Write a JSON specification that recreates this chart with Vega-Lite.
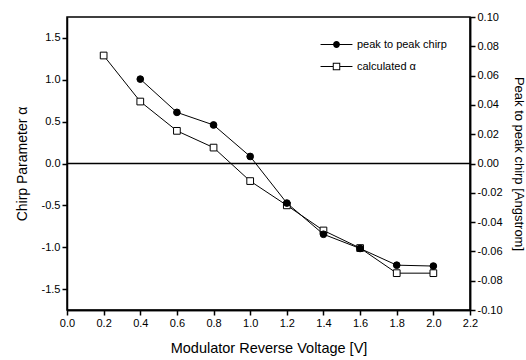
{
  "$schema": "https://vega.github.io/schema/vega-lite/v6.json",
  "width": 403,
  "height": 293,
  "autosize": {"type": "none"},
  "padding": {"left": 67, "top": 17, "right": 56, "bottom": 50},
  "background": "white",
  "config": {
    "font": "Liberation Sans",
    "view": {"stroke": "black", "strokeWidth": 1.5},
    "axis": {
      "grid": false,
      "ticks": true,
      "domainColor": "black",
      "domainWidth": 1.5,
      "tickColor": "black",
      "tickWidth": 1.5,
      "tickSize": 5,
      "labelColor": "black",
      "labelFont": "Liberation Sans",
      "labelFontSize": 11,
      "labelPadding": 2,
      "labelFlush": false,
      "labelOverlap": false,
      "titleColor": "black",
      "titleFont": "Liberation Sans",
      "titleFontSize": 13,
      "titleFontWeight": "normal"
    },
    "legend": {
      "labelFont": "Liberation Sans",
      "labelFontSize": 11,
      "labelColor": "black"
    }
  },
  "datasets": {
    "alpha": [
      {"V": 0.2, "alpha": 1.29},
      {"V": 0.4, "alpha": 0.74},
      {"V": 0.6, "alpha": 0.39},
      {"V": 0.8, "alpha": 0.19},
      {"V": 1.0, "alpha": -0.21},
      {"V": 1.2, "alpha": -0.50},
      {"V": 1.4, "alpha": -0.80},
      {"V": 1.6, "alpha": -1.01},
      {"V": 1.8, "alpha": -1.31},
      {"V": 2.0, "alpha": -1.31}
    ],
    "chirp": [
      {"V": 0.4, "chirp": 0.0576},
      {"V": 0.6, "chirp": 0.0349},
      {"V": 0.8, "chirp": 0.0263},
      {"V": 1.0, "chirp": 0.0048},
      {"V": 1.2, "chirp": -0.027},
      {"V": 1.4, "chirp": -0.0483},
      {"V": 1.6, "chirp": -0.058},
      {"V": 1.8, "chirp": -0.0694},
      {"V": 2.0, "chirp": -0.070}
    ]
  },
  "layer": [
    {
      "layer": [
        {
          "data": {"name": "alpha"},
          "mark": {"type": "line", "color": "black", "strokeWidth": 1},
          "encoding": {
            "x": {
              "field": "V", "type": "quantitative",
              "scale": {"domain": [0, 2.2], "nice": false, "zero": false},
              "axis": {
                "orient": "bottom",
                "title": "Modulator Reverse Voltage [V]",
                "titleFontSize": 14.5,
                "titlePadding": 13,
                "labelOverlap": false,
                "values": [0, 0.4, 0.8, 1.2, 1.6, 2.0],
                "format": ".1f"
              }
            },
            "y": {
              "field": "alpha", "type": "quantitative",
              "scale": {"domain": [-1.75, 1.75], "nice": false, "zero": false},
              "axis": {
                "orient": "left",
                "title": "Chirp Parameter α",
                "titleFontSize": 14,
                "titlePadding": 12,
                "labelOverlap": false,
                "values": [-1.5, -1, -0.5, 0, 0.5, 1, 1.5],
                "labelExpr": "replace(format(datum.value, '.1f'), '\u2212', '-')"
              }
            }
          }
        },
        {
          "data": {"name": "alpha"},
          "mark": {"type": "point", "shape": "square", "filled": true, "fill": "white", "stroke": "black", "strokeWidth": 1, "opacity": 1, "size": 45},
          "encoding": {
            "x": {"field": "V", "type": "quantitative"},
            "y": {"field": "alpha", "type": "quantitative"}
          }
        },
        {
          "data": {"values": [{"z": 0}]},
          "mark": {"type": "rule", "color": "black", "strokeWidth": 1.5},
          "encoding": {
            "y": {"field": "z", "type": "quantitative"}
          }
        },
        {
          "data": {"name": "alpha"},
          "transform": [{"filter": "false"}],
          "mark": {"type": "point", "filled": true, "fill": "black", "stroke": "black", "strokeWidth": 1, "opacity": 1, "size": 121},
          "encoding": {
            "x": {"field": "V", "type": "quantitative"},
            "y": {"field": "alpha", "type": "quantitative"},
            "shape": {
              "datum": "peak to peak chirp", "type": "nominal",
              "scale": {
                "domain": ["peak to peak chirp", "calculated α"],
                "range": [
                  "M-2.9,-0.1H-0.6V0.1H-2.9ZM0.6,-0.1H2.9V0.1H0.6ZM0.62,0A0.62,0.62 0 1,1 -0.62,0A0.62,0.62 0 1,1 0.62,0Z",
                  "M-2.9,-0.1H-0.68V0.1H-2.9ZM0.68,-0.1H2.9V0.1H0.68ZM-0.68,-0.68H0.68V0.68H-0.68ZM-0.5,-0.5V0.5H0.5V-0.5Z"
                ]
              },
              "legend": {
                "title": null,
                "orient": "none",
                "legendX": 263.5,
                "legendY": 21.5,
                "padding": 0,
                "symbolSize": 121,
                "symbolFillColor": "black",
                "symbolStrokeColor": "black",
                "symbolStrokeWidth": 1,
                "labelOffset": 14.5,
                "rowPadding": 10
              }
            }
          }
        }
      ]
    },
    {
      "layer": [
        {
          "data": {"name": "chirp"},
          "mark": {"type": "line", "color": "black", "strokeWidth": 1},
          "encoding": {
            "x": {
              "field": "V", "type": "quantitative",
              "axis": {
                "orient": "bottom",
                "title": null,
                "labelOverlap": false,
                "values": [0.2, 0.6, 1.0, 1.4, 1.8, 2.2],
                "format": ".1f"
              }
            },
            "y": {
              "field": "chirp", "type": "quantitative",
              "scale": {"domain": [-0.1, 0.1], "nice": false, "zero": false},
              "axis": {
                "orient": "right",
                "title": "Peak to peak chirp [Angstrom]",
                "titlePadding": 9,
                "labelOverlap": false,
                "values": [-0.1, -0.06, -0.02, 0.02, 0.06, 0.1],
                "labelExpr": "replace(format(datum.value, '.2f'), '\u2212', '-')"
              }
            }
          }
        },
        {
          "data": {"name": "chirp"},
          "mark": {"type": "point", "shape": "circle", "filled": true, "fill": "black", "stroke": "black", "strokeWidth": 1, "opacity": 1, "size": 45},
          "encoding": {
            "x": {"field": "V", "type": "quantitative"},
            "y": {
              "field": "chirp", "type": "quantitative",
              "axis": {
                "orient": "right",
                "title": null,
                "labelOverlap": false,
                "values": [-0.08, -0.04, 0, 0.04, 0.08],
                "labelExpr": "replace(format(datum.value, '.2f'), '\u2212', '-')"
              }
            }
          }
        }
      ],
      "resolve": {"axis": {"y": "independent"}}
    }
  ],
  "resolve": {"scale": {"y": "independent"}, "axis": {"x": "independent"}}
}
